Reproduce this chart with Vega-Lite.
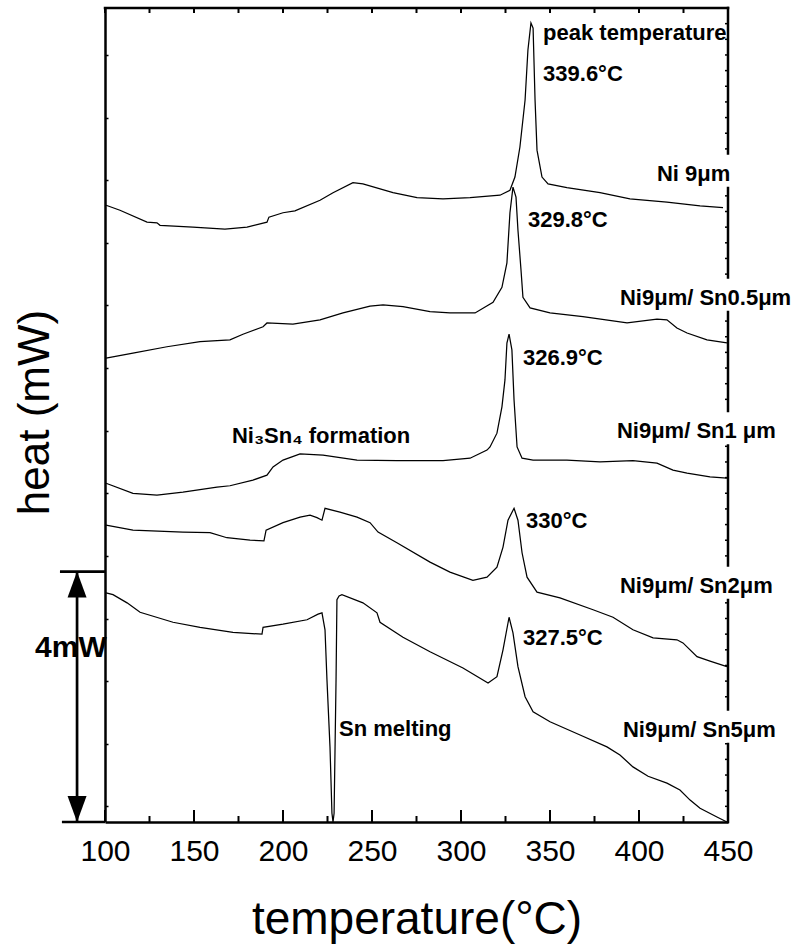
{
  "$schema": "https://vega.github.io/schema/vega-lite/v6.json",
  "width": 623,
  "height": 814,
  "autosize": {"type": "none"},
  "padding": {"left": 105, "top": 8, "right": 66, "bottom": 125},
  "background": "white",
  "config": {"view": {"stroke": null}, "font": "Liberation Sans"},
  "datasets": {
    "curves": [
      {"s":"Ni9","t":100.6,"h":9.85},{"s":"Ni9","t":108.4,"h":9.77},{"s":"Ni9","t":123.6,"h":9.58},{"s":"Ni9","t":129.2,"h":9.57},{"s":"Ni9","t":130.9,"h":9.53},{"s":"Ni9","t":149.4,"h":9.50},{"s":"Ni9","t":167.4,"h":9.47},{"s":"Ni9","t":179.8,"h":9.50},{"s":"Ni9","t":191.0,"h":9.58},{"s":"Ni9","t":192.1,"h":9.66},{"s":"Ni9","t":200.0,"h":9.73},{"s":"Ni9","t":206.7,"h":9.76},{"s":"Ni9","t":220.8,"h":9.93},{"s":"Ni9","t":228.1,"h":10.05},{"s":"Ni9","t":239.3,"h":10.21},{"s":"Ni9","t":244.9,"h":10.19},{"s":"Ni9","t":261.8,"h":10.05},{"s":"Ni9","t":275.3,"h":9.97},{"s":"Ni9","t":289.9,"h":9.95},{"s":"Ni9","t":305.1,"h":9.97},{"s":"Ni9","t":321.9,"h":10.01},{"s":"Ni9","t":327.5,"h":10.09},{"s":"Ni9","t":330.3,"h":10.30},{"s":"Ni9","t":333.1,"h":10.78},{"s":"Ni9","t":336.0,"h":11.53},{"s":"Ni9","t":337.6,"h":12.33},{"s":"Ni9","t":339.3,"h":12.76},{"s":"Ni9","t":340.5,"h":12.68},{"s":"Ni9","t":341.6,"h":11.53},{"s":"Ni9","t":342.7,"h":10.73},{"s":"Ni9","t":345.5,"h":10.30},{"s":"Ni9","t":348.9,"h":10.19},{"s":"Ni9","t":359.5,"h":10.13},{"s":"Ni9","t":378.1,"h":10.05},{"s":"Ni9","t":394.9,"h":9.95},{"s":"Ni9","t":415.7,"h":9.90},{"s":"Ni9","t":434.3,"h":9.84},{"s":"Ni9","t":447.2,"h":9.81},
      {"s":"Sn0.5","t":100.6,"h":7.41},{"s":"Sn0.5","t":115.7,"h":7.49},{"s":"Sn0.5","t":134.8,"h":7.59},{"s":"Sn0.5","t":153.4,"h":7.67},{"s":"Sn0.5","t":170.2,"h":7.70},{"s":"Sn0.5","t":177.5,"h":7.79},{"s":"Sn0.5","t":188.8,"h":7.91},{"s":"Sn0.5","t":191.0,"h":7.97},{"s":"Sn0.5","t":205.6,"h":7.95},{"s":"Sn0.5","t":220.8,"h":8.02},{"s":"Sn0.5","t":233.7,"h":8.13},{"s":"Sn0.5","t":248.9,"h":8.24},{"s":"Sn0.5","t":256.2,"h":8.26},{"s":"Sn0.5","t":267.4,"h":8.23},{"s":"Sn0.5","t":282.6,"h":8.15},{"s":"Sn0.5","t":293.8,"h":8.13},{"s":"Sn0.5","t":307.9,"h":8.13},{"s":"Sn0.5","t":318.0,"h":8.30},{"s":"Sn0.5","t":323.0,"h":8.54},{"s":"Sn0.5","t":325.8,"h":8.93},{"s":"Sn0.5","t":327.5,"h":9.73},{"s":"Sn0.5","t":329.2,"h":10.14},{"s":"Sn0.5","t":330.9,"h":9.98},{"s":"Sn0.5","t":332.0,"h":9.45},{"s":"Sn0.5","t":333.7,"h":8.82},{"s":"Sn0.5","t":334.8,"h":8.38},{"s":"Sn0.5","t":338.8,"h":8.21},{"s":"Sn0.5","t":350.0,"h":8.13},{"s":"Sn0.5","t":368.5,"h":8.07},{"s":"Sn0.5","t":393.3,"h":7.97},{"s":"Sn0.5","t":410.1,"h":8.03},{"s":"Sn0.5","t":415.7,"h":8.02},{"s":"Sn0.5","t":421.3,"h":7.89},{"s":"Sn0.5","t":427.0,"h":7.81},{"s":"Sn0.5","t":438.2,"h":7.70},{"s":"Sn0.5","t":449.4,"h":7.65},
      {"s":"Sn1","t":100.6,"h":5.41},{"s":"Sn1","t":115.7,"h":5.25},{"s":"Sn1","t":129.2,"h":5.22},{"s":"Sn1","t":143.8,"h":5.27},{"s":"Sn1","t":162.9,"h":5.35},{"s":"Sn1","t":170.2,"h":5.37},{"s":"Sn1","t":183.1,"h":5.46},{"s":"Sn1","t":191.0,"h":5.54},{"s":"Sn1","t":194.4,"h":5.67},{"s":"Sn1","t":200.0,"h":5.78},{"s":"Sn1","t":209.6,"h":5.88},{"s":"Sn1","t":222.5,"h":5.86},{"s":"Sn1","t":241.6,"h":5.78},{"s":"Sn1","t":264.0,"h":5.77},{"s":"Sn1","t":289.9,"h":5.77},{"s":"Sn1","t":305.1,"h":5.81},{"s":"Sn1","t":314.6,"h":5.94},{"s":"Sn1","t":316.3,"h":5.99},{"s":"Sn1","t":320.2,"h":6.21},{"s":"Sn1","t":323.0,"h":6.63},{"s":"Sn1","t":324.7,"h":7.06},{"s":"Sn1","t":325.8,"h":7.65},{"s":"Sn1","t":327.0,"h":7.79},{"s":"Sn1","t":328.6,"h":7.54},{"s":"Sn1","t":329.8,"h":6.74},{"s":"Sn1","t":331.5,"h":5.99},{"s":"Sn1","t":334.3,"h":5.81},{"s":"Sn1","t":340.5,"h":5.78},{"s":"Sn1","t":359.5,"h":5.78},{"s":"Sn1","t":378.1,"h":5.75},{"s":"Sn1","t":396.6,"h":5.77},{"s":"Sn1","t":410.1,"h":5.73},{"s":"Sn1","t":419.1,"h":5.62},{"s":"Sn1","t":427.0,"h":5.57},{"s":"Sn1","t":439.9,"h":5.51},{"s":"Sn1","t":449.4,"h":5.49},
      {"s":"Sn2","t":100.6,"h":4.74},{"s":"Sn2","t":115.7,"h":4.66},{"s":"Sn2","t":143.8,"h":4.63},{"s":"Sn2","t":159.0,"h":4.62},{"s":"Sn2","t":168.5,"h":4.54},{"s":"Sn2","t":181.5,"h":4.50},{"s":"Sn2","t":189.3,"h":4.49},{"s":"Sn2","t":190.5,"h":4.66},{"s":"Sn2","t":200.0,"h":4.78},{"s":"Sn2","t":209.6,"h":4.87},{"s":"Sn2","t":215.2,"h":4.90},{"s":"Sn2","t":219.1,"h":4.86},{"s":"Sn2","t":221.9,"h":4.82},{"s":"Sn2","t":223.6,"h":5.01},{"s":"Sn2","t":232.0,"h":4.95},{"s":"Sn2","t":241.6,"h":4.87},{"s":"Sn2","t":248.9,"h":4.78},{"s":"Sn2","t":253.4,"h":4.63},{"s":"Sn2","t":264.0,"h":4.46},{"s":"Sn2","t":282.6,"h":4.15},{"s":"Sn2","t":293.8,"h":3.99},{"s":"Sn2","t":306.7,"h":3.86},{"s":"Sn2","t":314.6,"h":3.91},{"s":"Sn2","t":320.2,"h":4.07},{"s":"Sn2","t":323.6,"h":4.39},{"s":"Sn2","t":326.4,"h":4.82},{"s":"Sn2","t":329.8,"h":5.01},{"s":"Sn2","t":332.0,"h":4.82},{"s":"Sn2","t":334.3,"h":4.30},{"s":"Sn2","t":337.1,"h":3.91},{"s":"Sn2","t":342.7,"h":3.67},{"s":"Sn2","t":355.6,"h":3.58},{"s":"Sn2","t":374.2,"h":3.39},{"s":"Sn2","t":385.4,"h":3.27},{"s":"Sn2","t":396.6,"h":3.07},{"s":"Sn2","t":407.9,"h":2.94},{"s":"Sn2","t":421.3,"h":2.91},{"s":"Sn2","t":424.7,"h":2.86},{"s":"Sn2","t":432.6,"h":2.64},{"s":"Sn2","t":439.9,"h":2.57},{"s":"Sn2","t":449.4,"h":2.48},
      {"s":"Sn5","t":100.6,"h":3.66},{"s":"Sn5","t":104.5,"h":3.63},{"s":"Sn5","t":112.4,"h":3.50},{"s":"Sn5","t":119.7,"h":3.35},{"s":"Sn5","t":138.2,"h":3.19},{"s":"Sn5","t":153.4,"h":3.11},{"s":"Sn5","t":171.9,"h":3.03},{"s":"Sn5","t":188.2,"h":3.00},{"s":"Sn5","t":188.8,"h":3.11},{"s":"Sn5","t":200.0,"h":3.16},{"s":"Sn5","t":213.5,"h":3.23},{"s":"Sn5","t":219.7,"h":3.32},{"s":"Sn5","t":221.9,"h":3.34},{"s":"Sn5","t":223.6,"h":3.07},{"s":"Sn5","t":224.7,"h":2.27},{"s":"Sn5","t":226.4,"h":1.20},{"s":"Sn5","t":227.5,"h":0.14},{"s":"Sn5","t":228.1,"h":0.0},{"s":"Sn5","t":228.7,"h":0.14},{"s":"Sn5","t":229.8,"h":2.27},{"s":"Sn5","t":230.3,"h":3.55},{"s":"Sn5","t":231.5,"h":3.61},{"s":"Sn5","t":233.1,"h":3.63},{"s":"Sn5","t":244.9,"h":3.50},{"s":"Sn5","t":252.8,"h":3.34},{"s":"Sn5","t":254.5,"h":3.19},{"s":"Sn5","t":267.4,"h":2.95},{"s":"Sn5","t":282.6,"h":2.72},{"s":"Sn5","t":301.1,"h":2.46},{"s":"Sn5","t":315.2,"h":2.22},{"s":"Sn5","t":320.2,"h":2.32},{"s":"Sn5","t":323.6,"h":2.75},{"s":"Sn5","t":327.0,"h":3.27},{"s":"Sn5","t":329.2,"h":3.02},{"s":"Sn5","t":332.0,"h":2.48},{"s":"Sn5","t":336.0,"h":2.00},{"s":"Sn5","t":340.5,"h":1.76},{"s":"Sn5","t":350.0,"h":1.60},{"s":"Sn5","t":366.9,"h":1.39},{"s":"Sn5","t":382.0,"h":1.20},{"s":"Sn5","t":389.3,"h":1.07},{"s":"Sn5","t":396.6,"h":0.88},{"s":"Sn5","t":405.1,"h":0.73},{"s":"Sn5","t":415.7,"h":0.62},{"s":"Sn5","t":423.0,"h":0.51},{"s":"Sn5","t":428.7,"h":0.35},{"s":"Sn5","t":434.3,"h":0.22},{"s":"Sn5","t":443.8,"h":0.08},{"s":"Sn5","t":449.4,"h":0.0}
    ],
    "labels": [
      {"label":"peak temperature","t":346.1,"h":12.49,"kind":"peak"},
      {"label":"339.6°C","t":346.1,"h":11.83,"kind":"peak"},
      {"label":"Ni  9μm","t":410.1,"h":10.24,"kind":"sample"},
      {"label":"329.8°C","t":337.6,"h":9.50,"kind":"peak"},
      {"label":"Ni9μm/ Sn0.5μm","t":389.3,"h":8.26,"kind":"sample"},
      {"label":"326.9°C","t":334.8,"h":7.30,"kind":"peak"},
      {"label":"Ni9μm/ Sn1 μm","t":387.6,"h":6.13,"kind":"sample"},
      {"label":"Ni₃Sn₄ formation","t":171.3,"h":6.05,"kind":"note"},
      {"label":"330°C","t":336.5,"h":4.70,"kind":"peak"},
      {"label":"Ni9μm/ Sn2μm","t":389.3,"h":3.66,"kind":"sample"},
      {"label":"327.5°C","t":334.8,"h":2.83,"kind":"peak"},
      {"label":"Ni9μm/ Sn5μm","t":391.0,"h":1.36,"kind":"sample"},
      {"label":"Sn melting","t":231.5,"h":1.37,"kind":"note"}
    ],
    "bar": [
      {"t":84.3,"h":0,"t2":84.3,"h2":4},
      {"t":74.7,"h":4,"t2":100,"h2":4},
      {"t":75.8,"h":0,"t2":100,"h2":0}
    ],
    "arrows": [
      {"t":84.3,"h":4,"dir":"up"},
      {"t":84.3,"h":0,"dir":"down"}
    ],
    "scaletext": [
      {"label":"4mW","t":60.7,"h":2.64}
    ],
    "xticks": [
      {"t":100},{"t":125},{"t":150},{"t":175},{"t":200},{"t":225},{"t":250},{"t":275},{"t":300},{"t":325},{"t":350},{"t":375},{"t":400},{"t":425},{"t":450}
    ],
    "yticks": [
      {"h":0.25},{"h":0.5},{"h":0.75},{"h":1},{"h":1.25},{"h":1.5},{"h":1.75},{"h":2},{"h":2.25},{"h":2.5},{"h":2.75},{"h":3},{"h":3.25},{"h":3.5},{"h":3.75},{"h":4},{"h":4.25},{"h":4.5},{"h":4.75},{"h":5},{"h":5.25},{"h":5.5},{"h":5.75},{"h":6},{"h":6.25},{"h":6.5},{"h":6.75},{"h":7},{"h":7.25},{"h":7.5},{"h":7.75},{"h":8},{"h":8.25},{"h":8.5},{"h":8.75},{"h":9},{"h":9.25},{"h":9.5},{"h":9.75},{"h":10},{"h":10.25},{"h":10.5},{"h":10.75},{"h":11},{"h":11.25},{"h":11.5},{"h":11.75},{"h":12},{"h":12.25},{"h":12.5},{"h":12.75}
    ],
    "frame": [
      {"edge":"top"}
    ]
  },
  "layer": [
    {
      "data": {"name": "curves"},
      "mark": {"type": "line", "color": "black", "strokeWidth": 1.25},
      "encoding": {
        "x": {
          "field": "t", "type": "quantitative",
          "scale": {"domain": [100, 450], "nice": false, "zero": false},
          "axis": {
            "orient": "bottom",
            "title": "temperature(°C)",
            "titleFont": "Liberation Sans", "titleFontSize": 46, "titleFontWeight": "normal", "titleColor": "black",
            "titleBaseline": "alphabetic", "titleY": 111,
            "values": [100,150,200,250,300,350,400,450],
            "labelFont": "Liberation Sans", "labelFontSize": 30, "labelColor": "black",
            "labelPadding": 14, "labelFlush": false, "labelOverlap": false,
            "ticks": false,
            "domainColor": "black", "domainWidth": 2.5, "grid": false
          }
        },
        "y": {
          "field": "h", "type": "quantitative",
          "scale": {"domain": [0, 13], "nice": false, "zero": false},
          "axis": {
            "orient": "left",
            "title": "heat (mW)",
            "titleFont": "Liberation Sans", "titleFontSize": 44, "titleFontWeight": "normal", "titleColor": "black",
            "titleBaseline": "alphabetic", "titleAngle": -90, "titleX": -57, "titleY": 404, "titleAlign": "center",
            "values": [0.25,0.5,0.75,1,1.25,1.5,1.75,2,2.25,2.5,2.75,3,3.25,3.5,3.75,4,4.25,4.5,4.75,5,5.25,5.5,5.75,6,6.25,6.5,6.75,7,7.25,7.5,7.75,8,8.25,8.5,8.75,9,9.25,9.5,9.75,10,10.25,10.5,10.75,11,11.25,11.5,11.75,12,12.25,12.5,12.75],
            "labels": false, "ticks": true, "tickSize": -3, "tickWidth": 1.5, "tickColor": "black",
            "domainColor": "black", "domainWidth": 2.5, "grid": false
          }
        },
        "detail": {"field": "s", "type": "nominal"}
      }
    },
    {
      "data": {"name": "yticks"},
      "mark": {"type": "tick", "color": "black", "opacity": 1, "orient": "horizontal", "size": 3, "thickness": 1.5, "xOffset": -1.5},
      "encoding": {
        "y": {"field": "h", "type": "quantitative"},
        "x": {"datum": 450}
      }
    },
    {
      "data": {"name": "frame"},
      "mark": {"type": "rule", "color": "black", "strokeWidth": 2.5, "strokeCap": "square"},
      "encoding": {
        "x": {"datum": 100},
        "x2": {"datum": 450},
        "y": {"datum": 13},
        "y2": {"datum": 13}
      }
    },
    {
      "data": {"name": "frame"},
      "mark": {"type": "rule", "color": "black", "strokeWidth": 2.5, "strokeCap": "square"},
      "encoding": {
        "x": {"datum": 450},
        "x2": {"datum": 450},
        "y": {"datum": 0},
        "y2": {"datum": 13}
      }
    },
    {
      "data": {"name": "labels"},
      "transform": [{"filter": "datum.kind === 'sample'"}],
      "mark": {"type": "rect", "color": "white", "yOffset": 6, "y2Offset": -26, "xOffset": -3},
      "encoding": {
        "x": {"field": "t", "type": "quantitative"},
        "x2": {"datum": 456},
        "y": {"field": "h", "type": "quantitative"},
        "y2": {"field": "h"}
      }
    },
    {
      "data": {"name": "labels"},
      "mark": {"type": "text", "align": "left", "baseline": "alphabetic", "font": "Liberation Sans", "fontWeight": "bold", "fontSize": 22, "color": "black"},
      "encoding": {
        "x": {"field": "t", "type": "quantitative"},
        "y": {"field": "h", "type": "quantitative"},
        "text": {"field": "label"}
      }
    },
    {
      "data": {"name": "bar"},
      "mark": {"type": "rule", "color": "black", "strokeWidth": 2.7},
      "encoding": {
        "x": {"field": "t", "type": "quantitative"},
        "x2": {"field": "t2"},
        "y": {"field": "h", "type": "quantitative"},
        "y2": {"field": "h2"}
      }
    },
    {
      "data": {"name": "arrows"},
      "mark": {"type": "point", "filled": true, "color": "black", "opacity": 1, "size": 1444, "strokeWidth": 0},
      "encoding": {
        "x": {"field": "t", "type": "quantitative"},
        "y": {"field": "h", "type": "quantitative"},
        "shape": {
          "field": "dir", "type": "nominal", "legend": null,
          "scale": {"domain": ["up", "down"], "range": ["M -0.5 1.37 L 0.5 1.37 L 0 0 Z", "M -0.5 -1.37 L 0.5 -1.37 L 0 0 Z"]}
        }
      }
    },
    {
      "data": {"name": "scaletext"},
      "mark": {"type": "text", "align": "left", "baseline": "alphabetic", "font": "Liberation Sans", "fontWeight": "bold", "fontSize": 30, "color": "black"},
      "encoding": {
        "x": {"field": "t", "type": "quantitative"},
        "y": {"field": "h", "type": "quantitative"},
        "text": {"field": "label"}
      }
    },
    {
      "data": {"name": "xticks"},
      "transform": [{"filter": "datum.t % 50 === 0"}],
      "mark": {"type": "tick", "color": "black", "opacity": 1, "orient": "vertical", "size": 12, "thickness": 2, "yOffset": -6},
      "encoding": {
        "x": {"field": "t", "type": "quantitative"},
        "y": {"datum": 0}
      }
    },
    {
      "data": {"name": "xticks"},
      "transform": [{"filter": "datum.t % 50 !== 0"}],
      "mark": {"type": "tick", "color": "black", "opacity": 1, "orient": "vertical", "size": 6, "thickness": 2, "yOffset": -3},
      "encoding": {
        "x": {"field": "t", "type": "quantitative"},
        "y": {"datum": 0}
      }
    },
    {
      "data": {"name": "xticks"},
      "mark": {"type": "tick", "color": "black", "opacity": 1, "orient": "vertical", "size": 5, "thickness": 2, "yOffset": 2.5},
      "encoding": {
        "x": {"field": "t", "type": "quantitative"},
        "y": {"datum": 13}
      }
    }
  ]
}
